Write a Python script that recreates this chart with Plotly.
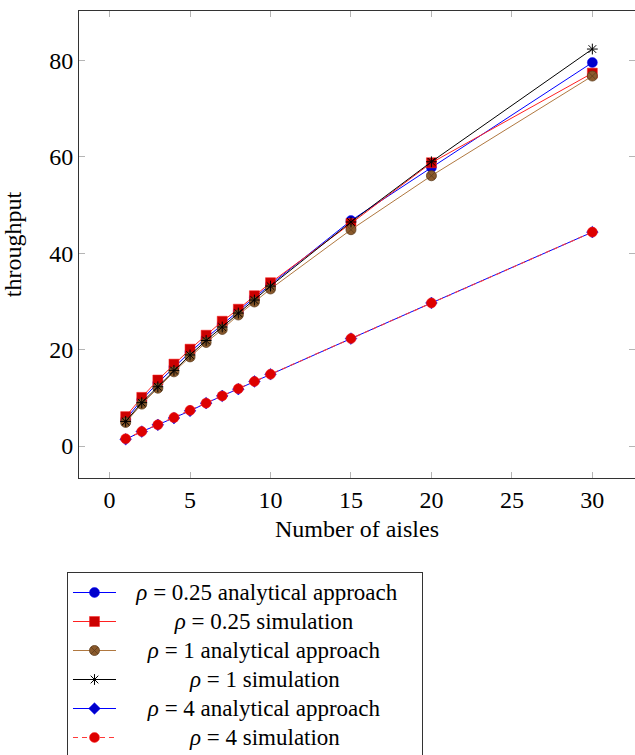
import plotly.graph_objects as go

# Number of aisles (x values shared by all series)
aisles = [1, 2, 3, 4, 5, 6, 7, 8, 9, 10, 15, 20, 30]

# Throughput per configuration
tp_r025_analytical = [5.5, 9.6, 13.1, 16.4, 19.5, 22.4, 25.3, 28.0, 30.8, 33.5, 46.8, 57.8, 79.6]
tp_r025_simulation = [6.1, 10.1, 13.7, 17.0, 20.1, 23.0, 25.9, 28.4, 31.2, 33.9, 46.2, 58.8, 77.4]
tp_r1_analytical = [4.9, 8.7, 12.0, 15.4, 18.5, 21.5, 24.2, 27.2, 29.9, 32.6, 44.9, 56.1, 76.8]
tp_r1_simulation = [5.1, 9.0, 12.3, 15.7, 18.9, 21.9, 24.7, 27.6, 30.3, 33.2, 46.5, 59.0, 82.4]
tp_r4_analytical = [1.4, 3.0, 4.4, 5.8, 7.3, 8.9, 10.4, 11.8, 13.4, 14.9, 22.3, 29.7, 44.4]
tp_r4_simulation = [1.5, 3.0, 4.4, 5.9, 7.4, 8.9, 10.4, 11.9, 13.4, 14.9, 22.3, 29.7, 44.4]

series_names = [
    "<i>ρ</i> = 0.25 analytical approach",
    "<i>ρ</i> = 0.25 simulation",
    "<i>ρ</i> = 1 analytical approach",
    "<i>ρ</i> = 1 simulation",
    "<i>ρ</i> = 4 analytical approach",
    "<i>ρ</i> = 4 simulation",
]

x_ticks = [0, 5, 10, 15, 20, 25, 30]
y_ticks = [0, 20, 40, 60, 80]

FONT = "Liberation Serif, Times New Roman, serif"

# Legend entries are centred in the box: leading / trailing space (in em)
legend_lead_em = [0.6, 2.39, 1.22, 3.01, 1.22, 3.01]
legend_trail_em = [0.9, 0.0, 0.0, 0.0, 0.0, 0.0]
LEGEND_TEXT_PX = 23


def em_space(em):
    """En spaces plus six-per-em spaces totalling roughly `em`."""
    n_en = int(em // 0.5)
    n_six = int(round((em - n_en * 0.5) * 6))
    return "\u2002" * n_en + "\u2006" * n_six


def legend_label(label, lead, trail):
    return (f'<span style="font-size:{LEGEND_TEXT_PX}px">'
            f"{em_space(lead)}{label}{em_space(trail)}</span>")


styles = [
    dict(line=dict(color="#0000ff", width=1),
         marker=dict(symbol="circle", size=10, color="#0000cc", line=dict(color="#0000ff", width=0.5))),
    dict(line=dict(color="#ff2020", width=1),
         marker=dict(symbol="square", size=10, color="#cc0000", line=dict(color="#ff2020", width=0.5))),
    dict(line=dict(color="#b07840", width=1),
         marker=dict(symbol="circle-x", size=10, color="#8a5a2c", line=dict(color="#5e3c1c", width=0.8))),
    dict(line=dict(color="#000000", width=1),
         marker=dict(symbol="asterisk-open", size=9, color="#000000", line=dict(color="#000000", width=1))),
    dict(line=dict(color="#0000ff", width=1),
         marker=dict(symbol="diamond", size=9, color="#0000cc", line=dict(color="#0000ff", width=0.5))),
    dict(line=dict(color="#ff3a3a", width=1.1, dash="5px,4px"),
         marker=dict(symbol="circle", size=10, color="#dd0000", line=dict(color="#ff2020", width=0.5))),
]

values = [tp_r025_analytical, tp_r025_simulation, tp_r1_analytical,
          tp_r1_simulation, tp_r4_analytical, tp_r4_simulation]

fig = go.Figure()
for name, lead, trail, y, st in zip(series_names, legend_lead_em, legend_trail_em, values, styles):
    fig.add_trace(go.Scatter(x=aisles, y=y, mode="lines+markers",
                             name=legend_label(name, lead, trail), **st))

axis_common = dict(
    showline=True, linecolor="#333333", linewidth=1, mirror="ticks",
    ticks="inside", ticklen=6, tickcolor="#b5b5b5", tickwidth=1,
    showgrid=False, zeroline=False,
    tickfont=dict(family=FONT, size=24, color="black"),
)

fig.update_layout(
    width=635, height=755,
    margin=dict(l=79, r=0, t=11, b=277, autoexpand=False),
    plot_bgcolor="white", paper_bgcolor="white",
    font=dict(family=FONT, size=24, color="black"),
    xaxis=dict(range=[-1.9, 32.65], tickvals=x_ticks,
               title=dict(text="Number of aisles", font=dict(family=FONT, size=24), standoff=8),
               **axis_common),
    yaxis=dict(range=[-6.64, 90.3], tickvals=y_ticks,
               title=dict(text="throughput", font=dict(family=FONT, size=24), standoff=20),
               **axis_common),
    legend=dict(x=-0.0216, y=-0.2013, xanchor="left", yanchor="top",
                bordercolor="#333333", borderwidth=1, bgcolor="white",
                font=dict(family=FONT, size=20, color="black"),
                itemwidth=43, tracegroupgap=0),
    showlegend=True,
)

fig.write_html("out.html")
